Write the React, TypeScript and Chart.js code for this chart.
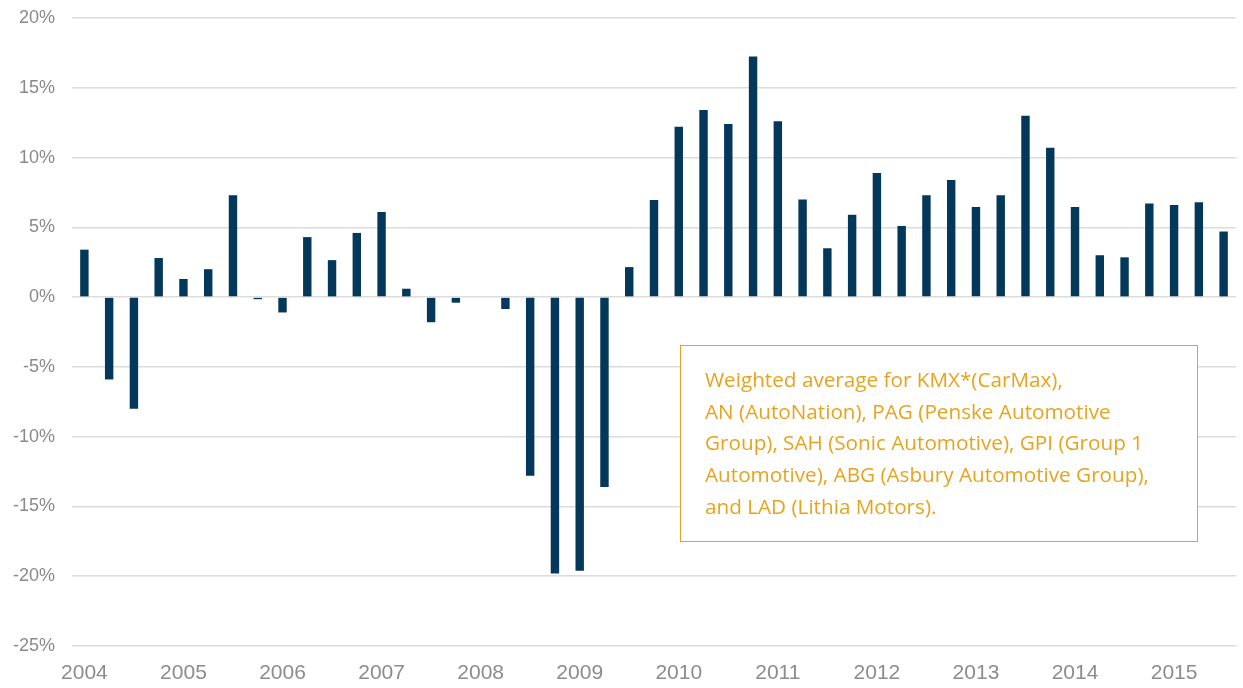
import React, { useEffect, useRef } from "react";
import { Chart, registerables } from "chart.js";

Chart.register(...registerables);

const years = ["2004", "2005", "2006", "2007", "2008", "2009", "2010", "2011", "2012", "2013", "2014", "2015"];
const quarters = ["Q1", "Q2", "Q3", "Q4"];
const lastYearQuarters = 3;

// Quarterly values (%)
const values = [
  3.4, -5.9, -8.0, 2.8,
  1.3, 2.0, 7.3, -0.15,
  -1.1, 4.3, 2.65, 4.6,
  6.1, 0.6, -1.8, -0.4,
  0.0, -0.85, -12.8, -19.8,
  -19.6, -13.6, 2.15, 6.95,
  12.2, 13.4, 12.4, 17.25,
  12.6, 7.0, 3.5, 5.9,
  8.9, 5.1, 7.3, 8.4,
  6.45, 7.3, 13.0, 10.7,
  6.45, 3.0, 2.85, 6.7,
  6.6, 6.8, 4.7,
];

const yTicks = [20, 15, 10, 5, 0, -5, -10, -15, -20, -25];

const noteLines = [
  "Weighted average for KMX*(CarMax),",
  "AN (AutoNation), PAG (Penske Automotive",
  "Group), SAH (Sonic Automotive), GPI (Group 1",
  "Automotive), ABG (Asbury Automotive Group),",
  "and LAD (Lithia Motors).",
];

const categories: string[] = [];
years.forEach((y, i) => {
  const n = i === years.length - 1 ? lastYearQuarters : 4;
  for (let q = 0; q < n; q++) categories.push(`${y} ${quarters[q]}`);
});

const NOTE_COLOR = "#E8A31E";

const notePlugin = {
  id: "noteBox",
  afterDraw(chart: any) {
    const { ctx, chartArea } = chart;
    const left = chartArea.left + 608;
    const top = chartArea.top + 327;
    const w = 517;
    const h = 196;
    ctx.save();
    ctx.fillStyle = "#ffffff";
    ctx.fillRect(left, top, w, h);
    ctx.strokeStyle = NOTE_COLOR;
    ctx.lineWidth = 1;
    ctx.strokeRect(left + 0.5, top + 0.5, w, h);
    ctx.fillStyle = NOTE_COLOR;
    ctx.font = "20.7px 'Open Sans'";
    ctx.textBaseline = "middle";
    ctx.textAlign = "left";
    noteLines.forEach((line, i) => {
      ctx.fillText(line, left + 25, top + 36 + i * 31.8);
    });
    ctx.restore();
  },
};

export default function App() {
  const canvasRef = useRef<HTMLCanvasElement | null>(null);

  useEffect(() => {
    if (!canvasRef.current) return;
    const chart = new Chart(canvasRef.current, {
      type: "bar",
      data: {
        labels: categories,
        datasets: [
          {
            data: values,
            backgroundColor: "#04385A",
            borderWidth: 0,
            categoryPercentage: 1,
            barPercentage: 0.34,
          },
        ],
      },
      options: {
        animation: false,
        responsive: true,
        maintainAspectRatio: false,
        layout: { padding: { top: 18, right: 7, bottom: 0, left: 0 } },
        plugins: {
          legend: { display: false },
          tooltip: { enabled: false },
        },
        scales: {
          x: {
            grid: { display: false, drawTicks: false },
            border: { display: false },
            ticks: {
              autoSkip: false,
              maxRotation: 0,
              minRotation: 0,
              padding: 15,
              color: "#8c8c8c",
              font: { family: "'Liberation Sans', Arial, sans-serif", size: 21 },
              callback: (_v: any, i: number) => (i % 4 === 0 ? categories[i].slice(0, 4) : ""),
            },
            afterFit: (scale: any) => {
              scale.height = 42;
            },
          },
          y: {
            min: -25,
            max: 20,
            afterBuildTicks: (scale: any) => {
              scale.ticks = yTicks.map((v) => ({ value: v }));
            },
            grid: { color: "#dcdcdc", lineWidth: 1.5, drawTicks: false },
            border: { display: false },
            ticks: {
              padding: 17,
              color: "#8a8a8a",
              font: { family: "'Liberation Sans', Arial, sans-serif", size: 18 },
              callback: (v: any) => `${v}%`,
            },
            afterFit: (scale: any) => {
              scale.width = 72;
              scale.paddingTop = 0;
              scale.paddingBottom = 0;
            },
          },
        },
      },
      plugins: [notePlugin],
    });
    return () => chart.destroy();
  }, []);

  return (
    <div style={{ position: "fixed", left: 0, top: 0, width: 1243, height: 688, background: "#fff" }}>
      <canvas ref={canvasRef} />
    </div>
  );
}
